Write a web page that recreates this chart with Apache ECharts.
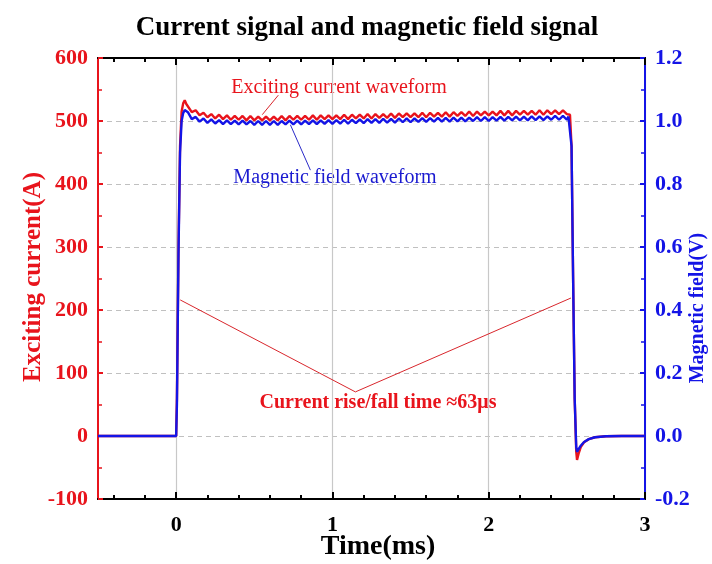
<!DOCTYPE html>
<html>
<head>
<meta charset="utf-8">
<script src="https://cdn.jsdelivr.net/npm/echarts@6/dist/echarts.min.js"></script>
<style>html,body{margin:0;padding:0;background:#fff;}#chart{width:712px;height:564px;}</style>
</head>
<body>
<div id="chart"></div>
<script>
// ---- Data (time in ms) ----
const time = [
  -0.5, 0, 0.005, 0.015, 0.025, 0.035, 0.045, 0.055, 0.065,
  0.075, 0.1, 0.125, 0.15, 0.175, 0.2, 0.225, 0.25, 0.275, 0.3,
  0.325, 0.35, 0.375, 0.4, 0.425, 0.45, 0.475, 0.5, 0.525, 0.55,
  0.575, 0.6, 0.625, 0.65, 0.675, 0.7, 0.725, 0.75, 0.775, 0.8,
  0.825, 0.85, 0.875, 0.9, 0.925, 0.95, 0.975, 1.0, 1.025, 1.05,
  1.075, 1.1, 1.125, 1.15, 1.175, 1.2, 1.225, 1.25, 1.275, 1.3,
  1.325, 1.35, 1.375, 1.4, 1.425, 1.45, 1.475, 1.5, 1.525, 1.55,
  1.575, 1.6, 1.625, 1.65, 1.675, 1.7, 1.725, 1.75, 1.775, 1.8,
  1.825, 1.85, 1.875, 1.9, 1.925, 1.95, 1.975, 2.0, 2.025, 2.05,
  2.075, 2.1, 2.125, 2.15, 2.175, 2.2, 2.225, 2.25, 2.275, 2.3,
  2.325, 2.35, 2.375, 2.4, 2.425, 2.45, 2.475, 2.5,
  2.51, 2.52, 2.53, 2.54, 2.55, 2.56, 2.565, 2.575, 2.59, 2.61, 2.64, 2.68, 2.75, 2.85, 3.0
];
// Exciting current (A)
const current = [
  0, 0, 60, 300, 460, 515, 528, 533, 527,
  525, 514, 517, 509, 513, 506, 511, 504, 510, 503,
  509, 502, 508, 502, 508, 501, 508, 501, 507, 501,
  507, 501, 507, 501, 508, 501, 508, 502, 508, 502,
  508, 502, 509, 502, 509, 503, 509, 503, 509, 503,
  510, 503, 510, 504, 510, 504, 511, 504, 511, 505,
  511, 505, 512, 505, 512, 506, 512, 506, 512, 506,
  513, 506, 513, 507, 513, 507, 514, 507, 514, 508,
  514, 508, 515, 508, 515, 509, 515, 509, 515, 509,
  516, 509, 516, 509, 516, 510, 516, 510, 516, 510,
  517, 510, 517, 511, 517, 511, 517, 511,
  514, 510, 460, 250, 60, -25, -38, -28, -17, -10, -5, -2, -0.5, 0, 0
];
// Magnetic field (V)
const field = [
  0, 0, 0.1, 0.58, 0.9, 1.0, 1.025, 1.035, 1.03,
  1.028, 1.006, 1.013, 0.998, 1.008, 0.994, 1.005, 0.992, 1.003, 0.990,
  1.002, 0.990, 1.001, 0.989, 1.001, 0.989, 1.000, 0.988, 1.000, 0.988,
  1.000, 0.988, 1.000, 0.988, 1.000, 0.989, 1.001, 0.989, 1.001, 0.989,
  1.001, 0.990, 1.002, 0.990, 1.002, 0.991, 1.003, 0.991, 1.003, 0.992,
  1.004, 0.992, 1.004, 0.993, 1.005, 0.993, 1.006, 0.994, 1.006, 0.994,
  1.007, 0.995, 1.007, 0.995, 1.008, 0.996, 1.008, 0.996, 1.008, 0.997,
  1.009, 0.997, 1.009, 0.998, 1.010, 0.998, 1.010, 0.998, 1.011, 0.999,
  1.011, 0.999, 1.011, 1.000, 1.012, 1.000, 1.012, 1.000, 1.012, 1.001,
  1.013, 1.001, 1.013, 1.002, 1.014, 1.002, 1.014, 1.002, 1.015, 1.003,
  1.015, 1.003, 1.015, 1.004, 1.016, 1.004, 1.016, 1.004,
  1.014, 1.008, 0.92, 0.5, 0.12, -0.035, -0.05, -0.042, -0.03, -0.019, -0.01, -0.004, -0.001, 0, 0
];
// Annotation guide lines (data units: ms, A)
const riseFallTime = [0.026, 1.147, 2.526];
const riseFallCurrent = [216, 70, 219];
const currentLeaderTime = [0.654, 0.551];
const currentLeaderCurrent = [541, 510];
const fieldLeaderTime = [0.731, 0.859];
const fieldLeaderCurrent = [494, 422];
// Tick labels
const xMajorTicks = [0, 1, 2, 3];
const xMinorTicks = [-0.4, -0.2, 0.2, 0.4, 0.6, 0.8, 1.2, 1.4, 1.6, 1.8, 2.2, 2.4, 2.6, 2.8];

const FONT = '"Liberation Serif", "Times New Roman", serif';
const RED = '#e8141c';
const BLUE = '#1414e6';

const zip = (xs, ys) => xs.map((x, i) => [x, ys[i]]);

const chart = echarts.init(document.getElementById('chart'), null, {renderer: 'canvas'});

function xAxisDef(position, ticks, len, labels, split) {
  return {
    type: 'value', min: -0.5, max: 3, position: position,
    axisLine: {show: true, onZero: false, lineStyle: {color: '#000', width: 2}},
    axisTick: {show: true, inside: true, length: len, customValues: ticks, lineStyle: {color: '#000', width: 2}},
    axisLabel: labels ? {show: true, customValues: ticks, margin: 15, color: '#000', fontFamily: FONT, fontWeight: 'bold', fontSize: 22} : {show: false},
    splitLine: {show: split, lineStyle: {color: '#c8c8c8', width: 1.2}}
  };
}

const option = {
  backgroundColor: '#fff',
  animation: false,
  grid: {left: 98, right: 67, top: 58, bottom: 65, containLabel: false},
  xAxis: [
    xAxisDef('bottom', xMajorTicks, 7, true, true),
    xAxisDef('bottom', xMinorTicks, 4, false, false),
    xAxisDef('top', xMajorTicks, 7, false, false),
    xAxisDef('top', xMinorTicks, 4, false, false)
  ],
  yAxis: [
    {
      type: 'value', min: -100, max: 600, interval: 100, position: 'left',
      axisLine: {show: true, onZero: false, lineStyle: {color: RED, width: 2}},
      axisTick: {show: true, inside: true, length: 5, lineStyle: {color: RED, width: 2}},
      minorTick: {show: true, splitNumber: 2, length: 4, lineStyle: {color: RED, width: 1.5}},
      axisLabel: {color: RED, fontFamily: FONT, fontWeight: 'bold', fontSize: 22, margin: 10},
      splitLine: {show: true, lineStyle: {color: '#c0c0c0', type: [5, 4], width: 1}}
    },
    {
      type: 'value', min: -0.2, max: 1.2, interval: 0.2, position: 'right',
      axisLine: {show: true, onZero: false, lineStyle: {color: BLUE, width: 2}},
      axisTick: {show: true, inside: true, length: 5, lineStyle: {color: BLUE, width: 2}},
      minorTick: {show: true, splitNumber: 2, length: 4, lineStyle: {color: BLUE, width: 1.5}},
      axisLabel: {color: BLUE, fontFamily: FONT, fontWeight: 'bold', fontSize: 22, margin: 10,
        formatter: v => v.toFixed(1)},
      splitLine: {show: false}
    }
  ],
  series: [
    {
      name: 'Exciting current', type: 'line', xAxisIndex: 0, yAxisIndex: 0,
      data: zip(time, current), showSymbol: false, smooth: false,
      lineStyle: {color: RED, width: 2.4}, z: 3
    },
    {
      name: 'Magnetic field', type: 'line', xAxisIndex: 0, yAxisIndex: 1,
      data: zip(time, field), showSymbol: false, smooth: false,
      lineStyle: {color: BLUE, width: 2.4}, z: 4
    },
    {
      type: 'line', xAxisIndex: 0, yAxisIndex: 0, data: zip(riseFallTime, riseFallCurrent),
      showSymbol: false, lineStyle: {color: '#d9262c', width: 1}, z: 2, silent: true
    },
    {
      type: 'line', xAxisIndex: 0, yAxisIndex: 0, data: zip(currentLeaderTime, currentLeaderCurrent),
      showSymbol: false, lineStyle: {color: '#d9262c', width: 1}, z: 5, silent: true
    },
    {
      type: 'line', xAxisIndex: 0, yAxisIndex: 0, data: zip(fieldLeaderTime, fieldLeaderCurrent),
      showSymbol: false, lineStyle: {color: '#2a2ac8', width: 1}, z: 5, silent: true
    }
  ],
  graphic: [
    {type: 'text', x: 367, y: 28, style: {text: 'Current signal and magnetic field signal', fill: '#000',
      font: 'bold 27px ' + FONT, align: 'center', verticalAlign: 'middle'}},
    {type: 'text', x: 34, y: 277, rotation: Math.PI / 2, style: {text: 'Exciting current(A)', fill: RED,
      font: 'bold 25px ' + FONT, align: 'center', verticalAlign: 'middle'}},
    {type: 'text', x: 698, y: 308, rotation: Math.PI / 2, style: {text: 'Magnetic field(V)', fill: BLUE,
      font: 'bold 20px ' + FONT, align: 'center', verticalAlign: 'middle'}},
    {type: 'text', x: 378, y: 547, style: {text: 'Time(ms)', fill: '#000',
      font: 'bold 28px ' + FONT, align: 'center', verticalAlign: 'middle'}},
    {type: 'text', x: 339, y: 88, style: {text: 'Exciting current waveform', fill: RED,
      font: '20px ' + FONT, align: 'center', verticalAlign: 'middle'}},
    {type: 'text', x: 335, y: 178, style: {text: 'Magnetic field waveform', fill: '#1a1ad0',
      font: '20px ' + FONT, align: 'center', verticalAlign: 'middle'}},
    {type: 'text', x: 378, y: 403, style: {text: 'Current rise/fall time \u224863\u03bcs', fill: RED,
      font: 'bold 20px ' + FONT, align: 'center', verticalAlign: 'middle'}}
  ]
};
chart.setOption(option);
</script>
</body>
</html>
